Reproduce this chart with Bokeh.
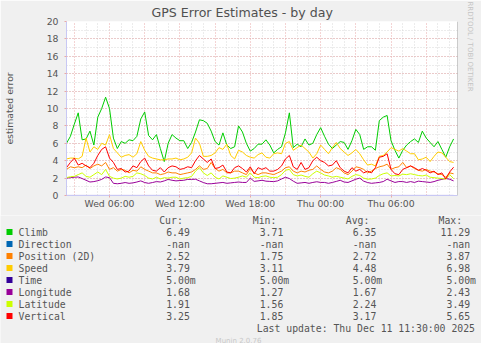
import numpy as np
import pandas as pd
from bokeh.plotting import figure
from bokeh.layouts import column
from bokeh.models import (Range1d, FixedTicker, SingleIntervalTicker, Title, Span)
from bokeh.core.properties import value
from bokeh.embed import file_html
from bokeh.resources import INLINE

# ---------------- data (20-min samples) ----------------
start = pd.Timestamp("2025-12-10 02:20")
times = pd.date_range(start, periods=100, freq="20min")

climb = [6.0, 6.8, 8.2, 9.5, 6.4, 6.5, 7.4, 5.8, 9.0, 10.0,
         11.3, 10.0, 6.6, 5.4, 6.2, 6.0, 6.4, 6.3, 6.8, 8.8,
         9.6, 6.9, 6.4, 7.0, 5.4, 3.9, 6.0, 7.0, 6.6, 6.3,
         6.3, 5.4, 6.1, 7.3, 8.7, 8.6, 8.3, 7.4, 6.2, 5.8,
         7.2, 5.8, 5.4, 5.6, 8.0, 7.3, 6.0, 5.1, 5.4, 5.9,
         5.9, 6.4, 5.8, 4.9, 5.3, 5.6, 7.2, 9.5, 5.5, 5.9,
         5.6, 6.5, 5.8, 6.0, 7.0, 7.8, 6.8, 5.9, 5.4, 5.8,
         6.2, 6.1, 5.3, 6.3, 7.6, 7.0, 5.3, 5.6, 5.6, 5.2,
         8.6, 9.0, 9.2, 6.3, 5.2, 4.3, 5.2, 5.8, 6.2, 6.5,
         6.1, 7.4, 6.6, 6.1, 5.6, 6.2, 5.3, 4.4, 5.6, 6.5]

position = [3.0, 3.3, 3.2, 3.3, 3.2, 3.5, 3.1, 3.4, 3.6, 3.4,
            3.8, 3.0, 3.2, 2.8, 3.0, 2.9, 2.6, 2.9, 2.8, 3.3,
            3.0, 2.8, 2.6, 2.6, 2.4, 2.5, 2.7, 2.6, 2.6, 2.4,
            2.5, 2.6, 2.7, 3.0, 3.4, 3.0, 3.1, 3.8, 3.1, 2.8,
            3.0, 2.6, 2.6, 2.8, 2.8, 2.6, 2.4, 3.1, 2.6, 2.4,
            2.6, 2.6, 2.5, 2.4, 2.6, 2.8, 3.2, 3.3, 2.8, 2.6,
            2.8, 2.7, 2.9, 3.0, 3.4, 3.0, 2.7, 2.6, 2.8, 3.2,
            3.0, 2.6, 2.4, 2.8, 3.3, 3.2, 3.0, 2.6, 2.8, 3.1,
            3.3, 3.4, 3.6, 3.0, 3.2, 3.3, 3.8, 3.2, 3.4, 3.1,
            2.9, 2.8, 3.0, 2.8, 2.7, 2.5, 2.4, 2.1, 2.6, 2.5]

speed = [4.2, 4.3, 4.3, 4.2, 4.5, 6.6, 5.0, 5.6, 5.3, 6.0,
         5.8, 7.0, 5.4, 4.9, 4.4, 4.6, 4.7, 4.4, 4.8, 6.2,
         5.2, 4.5, 4.3, 4.2, 4.1, 4.1, 4.2, 4.2, 4.3, 4.1,
         4.2, 4.4, 4.9, 6.6, 6.0, 4.5, 4.5, 4.6, 4.9, 5.5,
         5.3, 5.9, 4.6, 4.2, 5.2, 5.0, 4.6, 4.4, 4.3, 4.7,
         4.9, 4.4, 4.3, 4.8, 4.9, 4.8, 6.0, 6.2, 5.2, 5.5,
         5.8, 5.4, 5.0, 4.3, 4.8, 5.8, 5.3, 4.8, 5.5, 6.1,
         5.4, 5.0, 4.6, 4.9, 5.3, 4.8, 4.1, 3.5, 3.6, 3.4,
         4.5, 4.6, 5.0, 5.5, 5.3, 5.1, 5.4, 5.1, 4.8, 4.8,
         4.1, 4.2, 4.4, 3.9, 4.5, 5.0, 4.9, 4.4, 3.9, 3.8]

time_err = [0.005] * 100

longitude = [2.0, 2.05, 2.1, 2.13, 1.95, 1.75, 1.55, 1.6, 1.7, 1.85,
             2.13, 2.05, 1.4, 1.35, 1.4, 1.49, 1.4, 1.45, 1.55, 1.68,
             1.49, 1.4, 1.49, 1.6, 1.55, 1.68, 1.85, 1.75, 1.68, 1.72,
             1.75, 1.85, 1.85, 1.87, 1.68, 1.49, 1.35, 1.35, 1.4, 1.45,
             1.5, 1.4, 1.45, 1.5, 1.55, 1.5, 1.5, 2.0, 1.62, 1.68,
             1.75, 1.65, 1.62, 1.6, 1.68, 1.9, 2.1, 1.95, 1.65, 1.4,
             1.45, 1.5, 1.4, 1.5, 1.58, 1.5, 1.5, 1.4, 1.5, 1.62,
             1.75, 1.55, 1.5, 1.68, 1.87, 2.0, 1.65, 1.49, 1.4, 1.45,
             1.5, 1.6, 1.87, 1.68, 1.5, 1.6, 1.6, 1.5, 1.6, 1.5,
             1.65, 1.6, 1.55, 1.5, 1.6, 1.75, 1.85, 1.95, 1.87, 1.68]

latitude = [2.06, 2.15, 2.2, 2.4, 2.6, 2.2, 2.1, 2.4, 2.7, 2.4,
            3.0, 2.2, 2.0, 1.9, 2.0, 2.2, 2.1, 2.2, 2.6, 2.5,
            2.3, 2.0, 1.9, 2.1, 1.9, 2.05, 2.0, 2.1, 2.1, 1.9,
            2.0, 2.05, 2.2, 2.8, 3.2, 2.6, 2.3, 2.6, 2.1, 1.9,
            2.25, 2.1, 1.95, 2.0, 2.1, 2.25, 2.1, 2.6, 2.1, 2.05,
            2.2, 2.25, 2.1, 2.05, 2.1, 2.4, 2.9, 3.0, 2.4, 2.25,
            2.35, 2.2, 2.1, 2.5, 2.8, 2.6, 2.35, 2.25, 2.1, 2.2,
            2.1, 2.0, 1.9, 2.2, 2.4, 2.3, 2.0, 1.87, 1.9, 2.0,
            2.3, 2.5, 2.6, 2.25, 2.3, 2.25, 2.45, 2.4, 2.5, 2.4,
            2.3, 2.25, 2.35, 2.1, 2.05, 2.0, 1.95, 1.87, 2.4, 1.95]

vertical = [3.2, 3.8, 4.3, 3.5, 3.7, 3.4, 3.2, 3.7, 4.6, 5.3,
            5.6, 4.3, 3.8, 3.0, 3.1, 2.7, 2.8, 3.4, 3.2, 3.9,
            4.3, 3.4, 2.9, 2.8, 3.2, 2.7, 3.2, 3.4, 3.3, 3.0,
            3.1, 3.3, 3.2, 4.0, 4.6, 4.2, 3.8, 4.2, 3.1, 3.2,
            3.5, 2.7, 2.6, 3.2, 3.4, 3.1, 2.7, 3.3, 2.5, 3.2,
            3.0, 3.2, 2.8, 2.8, 3.0, 3.4, 4.2, 4.6, 3.3, 3.0,
            3.8, 3.0, 3.2, 4.0, 4.4, 4.0, 3.8, 3.4, 3.5, 4.0,
            3.2, 2.8, 2.6, 3.2, 2.8, 3.0, 2.6, 2.8, 2.6, 3.2,
            4.4, 4.5, 4.8, 3.0, 2.5, 2.4, 3.0, 3.2, 3.4, 3.2,
            2.9, 3.1, 2.9, 2.6, 2.8, 2.4, 2.6, 1.9, 2.7, 3.25]

names = ["Climb", "Direction", "Position (2D)", "Speed", "Time",
         "Longitude", "Latitude", "Vertical"]
colors = ["#00CC00", "#0066B3", "#FF8000", "#FFCC00", "#330099",
          "#990099", "#CCFF00", "#FF0000"]
series = [climb, None, position, speed, time_err, longitude, latitude, vertical]
cur_vals = ["6.49", "-nan", "2.52", "3.79", "5.00m", "1.68", "1.91", "3.25"]
min_vals = ["3.71", "-nan", "1.75", "3.11", "5.00m", "1.27", "1.56", "1.85"]
avg_vals = ["6.35", "-nan", "2.72", "4.48", "5.00m", "1.67", "2.24", "3.17"]
max_vals = ["11.29", "-nan", "3.87", "6.98", "5.00m", "2.43", "3.49", "5.65"]
headers = ["Cur:", "Min:", "Avg:", "Max:"]

tick_times = pd.date_range("2025-12-10 06:00", periods=5, freq="6h")
tick_labels = ["Wed 06:00", "Wed 12:00", "Wed 18:00", "Thu 00:00", "Thu 06:00"]

title = "GPS Error Estimates - by day"
y_title = "estimated error"
last_update = "Last update: Thu Dec 11 11:30:00 2025"
munin_ver = "Munin 2.0.76"
watermark = "RRDTOOL / TOBI OETIKER"

# ---------------- styling constants ----------------
BG = "#F0F0F0"
AXIS = "#C8C8F4"
TXT = "#555555"
GRID_MAJ = "#E9A8A8"
GRID_MIN = "#D8D8D8"
SANS = "DejaVu Sans"
MONO = "DejaVu Sans Mono"


def ms(ts):
    return pd.Timestamp(ts).value / 1e6


x_start = pd.Timestamp("2025-12-10 02:20")
x_end = pd.Timestamp("2025-12-11 11:40")

W = 481
H_MAIN = 215
H_LEG = 128

# ---------------- main chart ----------------
p = figure(width=W, height=H_MAIN, x_axis_type="datetime", output_backend="svg",
           toolbar_location=None, title=None, frame_align=False,
           x_range=Range1d(ms(x_start), ms(x_end)), y_range=Range1d(0, 20),
           min_border_left=59, min_border_right=22, min_border_top=20,
           min_border_bottom=20)
p.background_fill_color = "white"
p.border_fill_color = BG
p.outline_line_color = None

p.add_layout(Title(text=title, align="left", offset=85, standoff=4,
                   text_font=SANS, text_font_size="12.6px",
                   text_font_style="normal", text_color="#505050"), "above")
p.add_layout(Title(text=watermark, align="left", offset=-20, standoff=14,
                   vertical_align="middle",
                   text_font=SANS, text_font_size="7px",
                   text_font_style="normal", text_color="#C4C4C4"), "right")

# y axis
p.yaxis.ticker = SingleIntervalTicker(interval=2, num_minor_ticks=2)
p.yaxis.axis_line_color = AXIS
p.yaxis.major_tick_line_color = GRID_MAJ
p.yaxis.major_tick_out = 2
p.yaxis.major_tick_in = 0
p.yaxis.minor_tick_line_color = None
p.yaxis.major_label_standoff = 4
p.yaxis.major_label_text_font = SANS
p.yaxis.major_label_text_font_size = "9.3px"
p.yaxis.major_label_text_color = TXT
p.yaxis.axis_label = y_title
p.yaxis.axis_label_standoff = 29
p.yaxis.axis_label_text_font = SANS
p.yaxis.axis_label_text_font_size = "9.3px"
p.yaxis.axis_label_text_font_style = "normal"
p.yaxis.axis_label_text_color = TXT

p.ygrid.grid_line_color = GRID_MAJ
p.ygrid.grid_line_dash = "1 2"
p.ygrid.minor_grid_line_color = GRID_MIN
p.ygrid.minor_grid_line_dash = "1 2"

# x axis
tick_ms = [ms(t) for t in tick_times]
p.xaxis.ticker = FixedTicker(ticks=tick_ms)
p.xaxis.major_label_overrides = {t: l for t, l in zip(tick_ms, tick_labels)}
p.xaxis.axis_line_color = AXIS
p.xaxis.major_tick_line_color = GRID_MAJ
p.xaxis.major_tick_out = 2
p.xaxis.major_tick_in = 0
p.xaxis.minor_tick_line_color = None
p.xaxis.major_label_standoff = 0
p.xaxis.major_label_text_font = SANS
p.xaxis.major_label_text_font_size = "9.3px"
p.xaxis.major_label_text_color = TXT

major_x = pd.date_range("2025-12-10 03:00", "2025-12-11 09:00", freq="3h")
minor_x = [t for t in pd.date_range("2025-12-10 03:00", "2025-12-11 11:00", freq="1h")
           if t.hour % 3 != 0]
p.xgrid.ticker = FixedTicker(ticks=[ms(t) for t in major_x],
                             minor_ticks=[ms(t) for t in minor_x])
p.xgrid.grid_line_color = GRID_MAJ
p.xgrid.grid_line_dash = "1 2"
p.xgrid.minor_grid_line_color = GRID_MIN
p.xgrid.minor_grid_line_dash = "1 2"

p.add_layout(Span(location=ms(x_end), dimension="height",
                  line_color="#999999", line_width=1))

for s, c in zip(series, colors):
    if s is None:
        continue
    p.line(times, s, line_color=c, line_width=1)

# ---------------- legend panel (coordinates = reference pixels) ----------------
q = figure(width=W, height=H_LEG, output_backend="svg", toolbar_location=None,
           title=None, frame_align=False,
           x_range=Range1d(8, 8 + W), y_range=Range1d(223 + H_LEG, 223),
           min_border=0, x_axis_location=None, y_axis_location=None)
q.background_fill_color = BG
q.border_fill_color = BG
q.outline_line_color = None
q.grid.visible = False

CW = 5.9
row_y = [239.5 + 12 * k for k in range(len(names))]
q.rect(x=[17] * len(names), y=row_y, width=6, height=6, fill_color=colors,
       line_color=None)
q.text(x=[26] * len(names), y=row_y, text=names, text_font=value(MONO),
       text_font_size=value("9.8px"), text_color=TXT, text_align="left",
       text_baseline="middle")
q.text(x=[166.7, 260.3, 353.3, 446.0], y=[228] * 4, text=headers,
       text_font=value(MONO), text_font_size=value("9.8px"), text_color=TXT,
       text_align="left", text_baseline="middle")

col_ends = [197.3, 290.8, 383.8, 477.6]
vx, vy, vt = [], [], []
for vals, xe in zip([cur_vals, min_vals, avg_vals, max_vals], col_ends):
    for k, v in enumerate(vals):
        vx.append(xe + (CW if v.endswith("m") else 0))
        vy.append(row_y[k])
        vt.append(v)
q.text(x=vx, y=vy, text=vt, text_font=value(MONO), text_font_size=value("9.8px"),
       text_color=TXT, text_align="right", text_baseline="middle")

q.text(x=[482.5], y=[335.5], text=[last_update], text_font=value(MONO),
       text_font_size=value("9.8px"), text_color=TXT, text_align="right",
       text_baseline="middle")
q.text(x=[246], y=[348], text=[munin_ver], text_font=value(SANS),
       text_font_size=value("7px"), text_color="#C8C8C8", text_align="center",
       text_baseline="middle")

layout = column(p, q, spacing=0)
open("out.html", "w").write(file_html(layout, INLINE))
